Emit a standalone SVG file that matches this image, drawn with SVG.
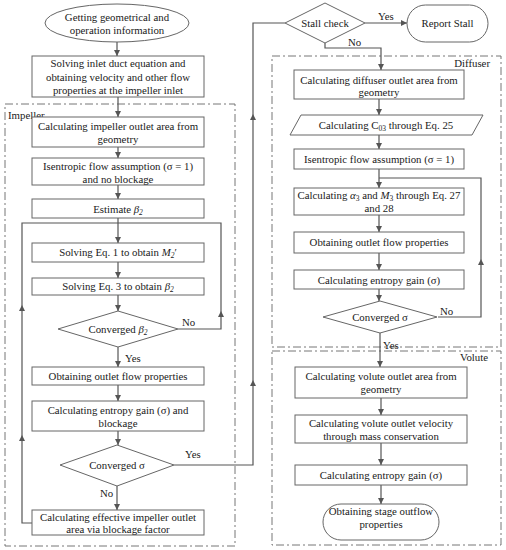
<svg xmlns="http://www.w3.org/2000/svg" width="506" height="550" viewBox="0 0 506 550">
<style>
.b{fill:#fff;stroke:#666;stroke-width:1}
.t{font-family:"Liberation Serif","Times New Roman",serif;font-size:10.8px;fill:#1a1a1a;text-anchor:middle}
.l{font-family:"Liberation Serif","Times New Roman",serif;font-size:10.8px;fill:#1a1a1a}
.c{fill:none;stroke:#555;stroke-width:1.2}
.g{fill:none;stroke:#666;stroke-width:0.9;stroke-dasharray:8,3,2,3}
.ah{fill:#555}
</style>
<defs>
<marker id="a" viewBox="0 0 8 8" refX="8" refY="4" markerWidth="6" markerHeight="6" orient="auto" markerUnits="userSpaceOnUse">
<path d="M0,0 L8,4 L0,8 z" fill="#555"/>
</marker>
</defs>
<rect width="506" height="550" fill="#fff"/>
<g id="groups">
<rect class="g" x="5" y="104" width="230" height="442"/>
<text class="l" x="8" y="119">Impeller</text>
<rect class="g" x="272" y="56" width="229" height="291"/>
<text class="l" x="490" y="67" text-anchor="end">Diffuser</text>
<rect class="g" x="272" y="351" width="229" height="194"/>
<text class="l" x="488" y="361" text-anchor="end">Volute</text>
</g>
<g id="connectors">
<path class="c" d="M117,42 V56" marker-end="url(#a)"/>
<path class="c" d="M118,97 V117" marker-end="url(#a)"/>
<path class="c" d="M118,147 V158" marker-end="url(#a)"/>
<path class="c" d="M118,185 V199" marker-end="url(#a)"/>
<path class="c" d="M118,218 V243" marker-end="url(#a)"/>
<path class="c" d="M178,329 H221 V223 H118"/>
<path class="c" d="M32,523 H22 V223 H118"/>
<path class="c" d="M118,262 V278" marker-end="url(#a)"/>
<path class="c" d="M118,295 V311" marker-end="url(#a)"/>
<path class="c" d="M118,347 V367" marker-end="url(#a)"/>
<path class="c" d="M118,385 V401" marker-end="url(#a)"/>
<path class="c" d="M118,431 V445" marker-end="url(#a)"/>
<path class="c" d="M117,486 V510" marker-end="url(#a)"/>
<path class="c" d="M174,465 H253 V23 H285"/>
<path class="c" d="M365,23 H407" marker-end="url(#a)"/>
<path class="c" d="M325,43 V48 H381 V70" marker-end="url(#a)"/>
<path class="c" d="M379,99 V115" marker-end="url(#a)"/>
<path class="c" d="M379,135 V149" marker-end="url(#a)"/>
<path class="c" d="M379,169 V188" marker-end="url(#a)"/>
<path class="c" d="M438,317 H481 V178 H379"/>
<path class="c" d="M379,215 V232" marker-end="url(#a)"/>
<path class="c" d="M379,253 V270" marker-end="url(#a)"/>
<path class="c" d="M379,289 V301" marker-end="url(#a)"/>
<path class="c" d="M380,333 V367" marker-end="url(#a)"/>
<path class="c" d="M381,398 V415" marker-end="url(#a)"/>
<path class="c" d="M381,443 V465" marker-end="url(#a)"/>
<path class="c" d="M381,485 V504" marker-end="url(#a)"/>
<path class="ah" d="M22,305 L25,311 L19,311 z"/>
<path class="ah" d="M22,435 L25,441 L19,441 z"/>
<path class="ah" d="M221,311 L224,317 L218,317 z"/>
<path class="ah" d="M253,114 L256,120 L250,120 z"/>
<path class="ah" d="M253,380 L256,386 L250,386 z"/>
<path class="ah" d="M481,259 L484,265 L478,265 z"/>
<text class="l" x="182" y="326">No</text>
<text class="l" x="125" y="362">Yes</text>
<text class="l" x="185" y="458">Yes</text>
<text class="l" x="100" y="497">No</text>
<text class="l" x="378" y="20">Yes</text>
<text class="l" x="348" y="46">No</text>
<text class="l" x="440" y="315">No</text>
<text class="l" x="383" y="349">Yes</text>
</g>
<g id="n1"><ellipse class="b" cx="117" cy="23" rx="72" ry="19"/><text class="t" x="117" y="21">Getting geometrical and</text><text class="t" x="117" y="34">operation information</text></g>
<g id="n2"><rect class="b" x="32" y="56" width="172" height="41"/><text class="t" x="118" y="67">Solving inlet duct equation and</text><text class="t" x="118" y="80.5">obtaining velocity and other flow</text><text class="t" x="118" y="94">properties at the impeller inlet</text></g>
<g id="n3"><rect class="b" x="32" y="117" width="172" height="30"/><text class="t" x="118" y="130">Calculating impeller outlet area from</text><text class="t" x="118" y="143">geometry</text></g>
<g id="n4"><rect class="b" x="32" y="158" width="172" height="27"/><text class="t" x="118" y="169.5">Isentropic flow assumption  (σ = 1)</text><text class="t" x="118" y="182.5">and no blockage</text></g>
<g id="n5"><rect class="b" x="32" y="199" width="172" height="19"/><text class="t" x="118" y="212.5">Estimate <tspan font-style="italic">β</tspan><tspan font-style="italic" font-size="7.5" dy="2">2</tspan></text></g>
<g id="n6"><rect class="b" x="32" y="243" width="172" height="19"/><text class="t" x="118" y="256">Solving Eq. 1 to obtain <tspan font-style="italic">M</tspan><tspan font-style="italic" font-size="7.5" dy="2">2</tspan><tspan dy="-2">′</tspan></text></g>
<g id="n7"><rect class="b" x="32" y="278" width="172" height="17"/><text class="t" x="118" y="290">Solving Eq. 3 to obtain <tspan font-style="italic">β</tspan><tspan font-style="italic" font-size="7.5" dy="2">2</tspan></text></g>
<g id="n8"><path class="b" d="M118,311 L178,329 L118,347 L58,329 z"/><text class="t" x="118" y="333">Converged <tspan font-style="italic">β</tspan><tspan font-style="italic" font-size="7.5" dy="2">2</tspan></text></g>
<g id="n9"><rect class="b" x="32" y="367" width="172" height="18"/><text class="t" x="118" y="380">Obtaining outlet flow properties</text></g>
<g id="n10"><rect class="b" x="32" y="401" width="172" height="30"/><text class="t" x="118" y="414">Calculating entropy gain  (σ) and</text><text class="t" x="118" y="427">blockage</text></g>
<g id="n11"><path class="b" d="M117,445 L174,465 L117,486 L60,465 z"/><text class="t" x="117" y="469">Converged σ</text></g>
<g id="n12"><rect class="b" x="32" y="510" width="172" height="25"/><text class="t" x="118" y="521">Calculating effective impeller outlet</text><text class="t" x="118" y="533">area via blockage factor</text></g>
<g id="n13"><path class="b" d="M325,3 L365,23 L325,43 L285,23 z"/><text class="t" x="325" y="27">Stall check</text></g>
<g id="n14"><rect class="b" x="407" y="5" width="81" height="37" rx="18.5"/><text class="t" x="447.5" y="27">Report Stall</text></g>
<g id="n15"><rect class="b" x="294" y="70" width="170" height="29"/><text class="t" x="379" y="83.5">Calculating diffuser outlet area from</text><text class="t" x="379" y="96">geometry</text></g>
<g id="n16"><path class="b" d="M301,115 L483,115 L472,135 L290,135 z"/><text class="t" x="386" y="129">Calculating C<tspan font-size="7.5" dy="2">03</tspan><tspan dy="-2"> through Eq. 25</tspan></text></g>
<g id="n17"><rect class="b" x="294" y="149" width="170" height="20"/><text class="t" x="379" y="162.5">Isentropic flow assumption  (σ = 1)</text></g>
<g id="n18"><rect class="b" x="294" y="188" width="170" height="27"/><text class="t" x="379" y="199">Calculating <tspan font-style="italic">α</tspan><tspan font-size="7.5" dy="2">3</tspan><tspan dy="-2"> and </tspan><tspan font-style="italic">M</tspan><tspan font-size="7.5" dy="2">3</tspan><tspan dy="-2"> through Eq. 27</tspan></text><text class="t" x="379" y="212">and 28</text></g>
<g id="n19"><rect class="b" x="294" y="232" width="170" height="21"/><text class="t" x="379" y="246">Obtaining outlet flow properties</text></g>
<g id="n20"><rect class="b" x="294" y="270" width="170" height="19"/><text class="t" x="379" y="283.5">Calculating entropy gain  (σ)</text></g>
<g id="n21"><path class="b" d="M380,301 L437,317 L380,333 L323,317 z"/><text class="t" x="380" y="321">Converged σ</text></g>
<g id="n22"><rect class="b" x="295" y="367" width="172" height="31"/><text class="t" x="381" y="379.5">Calculating volute outlet area from</text><text class="t" x="381" y="393">geometry</text></g>
<g id="n23"><rect class="b" x="295" y="415" width="172" height="28"/><text class="t" x="381" y="426.5">Calculating volute outlet velocity</text><text class="t" x="381" y="439.5">through mass conservation</text></g>
<g id="n24"><rect class="b" x="295" y="465" width="172" height="20"/><text class="t" x="381" y="478.5">Calculating entropy gain  (σ)</text></g>
<g id="n25"><rect class="b" x="323" y="504" width="116" height="36" rx="18"/><text class="t" x="381" y="515">Obtaining stage outflow</text><text class="t" x="381" y="528">properties</text></g>
</svg>
